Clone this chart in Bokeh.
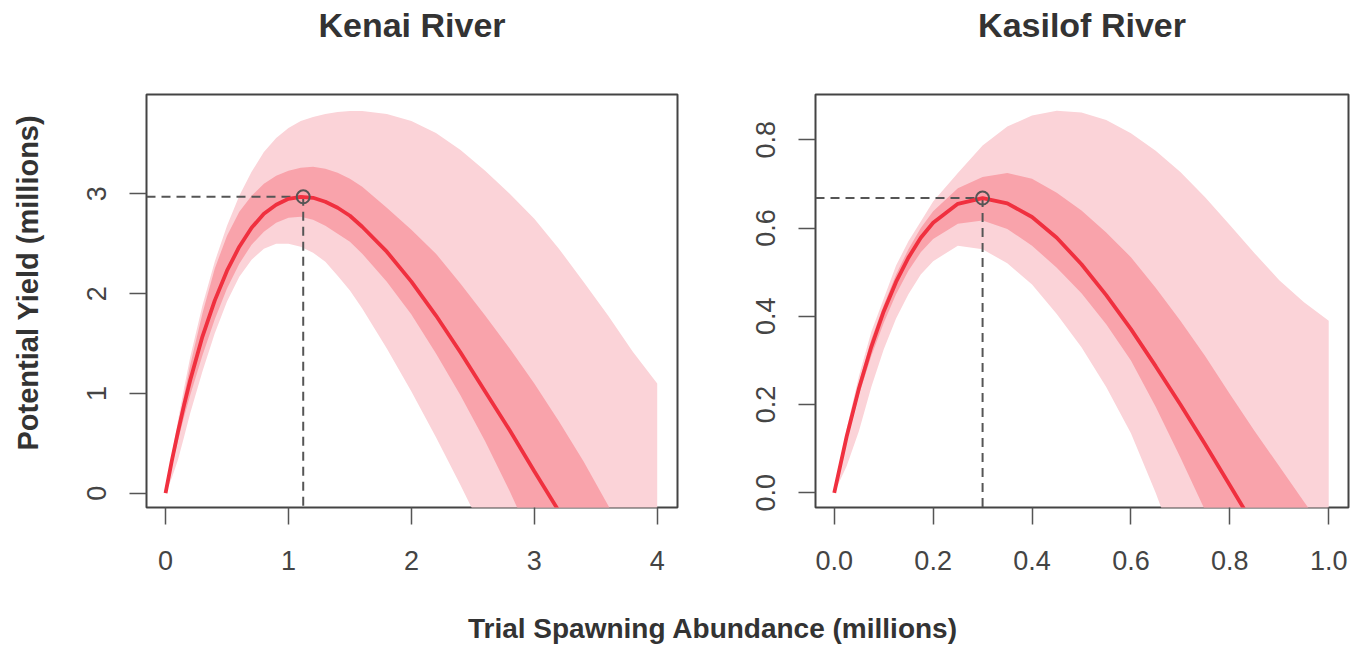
import math
from bokeh.plotting import figure
from bokeh.models import Range1d, FixedTicker, Title, NumeralTickFormatter, BasicTickFormatter
from bokeh.layouts import column, row
from bokeh.embed import file_html
from bokeh.resources import INLINE

# ---------------- data ----------------
# Kenai River
kenai_s = [0, 0.05, 0.1, 0.15, 0.2, 0.3, 0.4, 0.5, 0.6, 0.7, 0.8, 0.9, 1.0, 1.1, 1.2, 1.3,
           1.4, 1.5, 1.6, 1.8, 2.0, 2.2, 2.4, 2.6, 2.8, 3.0, 3.2, 3.4, 3.6, 3.8, 4.0]
kenai_med = [0, 0.32, 0.61, 0.88, 1.13, 1.57, 1.93, 2.23, 2.47, 2.66, 2.80, 2.89, 2.95, 2.97, 2.96, 2.92,
             2.86, 2.78, 2.67, 2.42, 2.12, 1.78, 1.41, 1.02, 0.63, 0.22, -0.18, -0.59, -0.98, -1.38, -1.76]
kenai_in_hi = [0, 0.36, 0.68, 0.98, 1.28, 1.80, 2.25, 2.58, 2.82, 2.98, 3.10, 3.18, 3.23, 3.26, 3.27, 3.25,
               3.21, 3.15, 3.07, 2.86, 2.64, 2.40, 2.10, 1.78, 1.45, 1.10, 0.72, 0.32, -0.12, -0.58, -1.05]
kenai_in_lo = [0, 0.26, 0.52, 0.76, 0.98, 1.38, 1.74, 2.05, 2.30, 2.49, 2.62, 2.71, 2.76, 2.77, 2.74, 2.68,
               2.60, 2.52, 2.40, 2.12, 1.79, 1.40, 0.98, 0.52, 0.02, -0.52, -1.10, -1.70, -2.30, -2.90, -3.50]
kenai_out_hi = [0, 0.38, 0.72, 1.05, 1.36, 1.88, 2.32, 2.68, 2.98, 3.22, 3.42, 3.56, 3.66, 3.73, 3.77, 3.80,
                3.82, 3.83, 3.83, 3.80, 3.73, 3.61, 3.44, 3.23, 3.00, 2.75, 2.45, 2.12, 1.78, 1.42, 1.10]
kenai_out_lo = [0, 0.15, 0.33, 0.56, 0.80, 1.22, 1.60, 1.92, 2.17, 2.34, 2.45, 2.50, 2.50, 2.47, 2.41, 2.32,
                2.18, 2.03, 1.85, 1.45, 1.02, 0.56, 0.08, -0.42, -0.95, -1.50, -2.10, -2.70, -3.30, -3.90, -4.50]
kenai_peak = (1.12, 2.97)
kenai_xticks = [0, 1, 2, 3, 4]
kenai_yticks = [0, 1, 2, 3]

# Kasilof River
kas_s = [0, 0.025, 0.05, 0.075, 0.1, 0.125, 0.15, 0.175, 0.2, 0.25, 0.3, 0.35, 0.4, 0.45, 0.5,
         0.55, 0.6, 0.65, 0.7, 0.75, 0.8, 0.85, 0.9, 0.95, 1.0]
kas_med = [0, 0.127, 0.237, 0.331, 0.411, 0.478, 0.533, 0.578, 0.612, 0.655, 0.668, 0.656, 0.625, 0.578, 0.518,
           0.448, 0.371, 0.287, 0.200, 0.110, 0.017, -0.076, -0.17, -0.26, -0.36]
kas_in_hi = [0, 0.135, 0.25, 0.348, 0.425, 0.495, 0.552, 0.60, 0.638, 0.69, 0.716, 0.725, 0.712, 0.68, 0.64,
             0.59, 0.534, 0.465, 0.39, 0.31, 0.224, 0.14, 0.06, -0.02, -0.10]
kas_in_lo = [0, 0.118, 0.222, 0.31, 0.385, 0.45, 0.503, 0.545, 0.575, 0.61, 0.617, 0.598, 0.56, 0.51, 0.452,
             0.382, 0.30, 0.195, 0.08, -0.04, -0.16, -0.28, -0.40, -0.52, -0.64]
kas_out_hi = [0, 0.145, 0.265, 0.365, 0.44, 0.515, 0.57, 0.615, 0.66, 0.725, 0.787, 0.83, 0.855, 0.866, 0.862,
              0.845, 0.815, 0.775, 0.727, 0.67, 0.607, 0.543, 0.482, 0.432, 0.39]
kas_out_lo = [0, 0.06, 0.14, 0.24, 0.325, 0.395, 0.45, 0.495, 0.525, 0.56, 0.552, 0.52, 0.472, 0.405, 0.33,
              0.24, 0.135, 0.0, -0.15, -0.30, -0.45, -0.60, -0.75, -0.90, -1.05]
kas_peak = (0.30, 0.668)
kas_xticks = [0, 0.2, 0.4, 0.6, 0.8, 1.0]
kas_yticks = [0, 0.2, 0.4, 0.6, 0.8]

titles = ["Kenai River", "Kasilof River"]
ylab = "Potential Yield (millions)"
xlab = "Trial Spawning Abundance (millions)"

# ---------------- styling ----------------
FONT = "Liberation Sans"
LIGHT = "#FBD3D8"
DARK = "#F9A3AB"
RED = "#F0303F"
GREY = "#555555"
TXT = "#333333"

HT = 60          # title strip height
HM = 530         # panel row height
HB = 55          # bottom label strip height
YW = 64          # y-label strip width
W1, W2 = 738, 614


def blank(width, height, **kw):
    f = figure(width=width, height=height, x_range=Range1d(0, 1), y_range=Range1d(0, 1),
               output_backend="svg", toolbar_location=None, min_border=0,
               x_axis_location=None, y_axis_location=None, **kw)
    f.grid.visible = False
    f.outline_line_color = None
    return f


def panel(s, ohi, ihi, med, ilo, olo, peak, xr, yr, xt, yt, fmt, width, mbl, mbr):
    p = figure(width=width, height=HM, x_range=Range1d(*xr), y_range=Range1d(*yr),
               output_backend="svg", toolbar_location=None,
               min_border_left=mbl, min_border_right=mbr,
               min_border_top=94 - HT, min_border_bottom=HM - (94 - HT) - 413)
    p.grid.visible = False
    p.background_fill_color = "white"
    p.border_fill_color = "white"
    p.outline_line_color = "#444444"
    p.outline_line_width = 2
    p.varea(x=s, y1=olo, y2=ohi, fill_color=LIGHT)
    p.varea(x=s, y1=ilo, y2=ihi, fill_color=DARK)
    px, py = peak
    p.line([xr[0], px], [py, py], line_color=GREY, line_width=2, line_dash="9 6")
    p.line([px, px], [py, yr[0]], line_color=GREY, line_width=2, line_dash="9 6")
    p.line(s, med, line_color=RED, line_width=3.8)
    p.scatter([px], [py], marker="circle", size=13, fill_color=None,
              line_color=GREY, line_width=2)
    for ax, ticks in ((p.xaxis, xt), (p.yaxis, yt)):
        ax.ticker = FixedTicker(ticks=ticks)
        ax.formatter = fmt
        ax.axis_line_color = None
        ax.major_tick_in = 0
        ax.major_tick_out = 17
        ax.major_tick_line_color = GREY
        ax.major_tick_line_width = 1.5
        ax.minor_tick_line_color = None
        ax.major_label_text_font = FONT
        ax.major_label_text_font_size = "27px"
        ax.major_label_text_color = "#444444"
    p.xaxis.major_label_standoff = 26
    p.yaxis.major_label_standoff = 23
    p.yaxis.major_label_orientation = "vertical"
    return p


k_xr = (-0.155, 4.165)
k_yr = (-0.143, 3.995)
s_xr = (-0.0379, 1.04)
s_yr = (-0.0333, 0.9027)

f1 = panel(kenai_s, kenai_out_hi, kenai_in_hi, kenai_med, kenai_in_lo, kenai_out_lo, kenai_peak,
           k_xr, k_yr, kenai_xticks, kenai_yticks, BasicTickFormatter(), W1 - YW, 146 - YW, 61)
f2 = panel(kas_s, kas_out_hi, kas_in_hi, kas_med, kas_in_lo, kas_out_lo, kas_peak,
           s_xr, s_yr, kas_xticks, kas_yticks, NumeralTickFormatter(format="0.0"), W2, 77, 4)

# title strips
t1 = blank(W1, HT, min_border_left=146, min_border_right=61)
t1.add_layout(Title(text=titles[0], align="center", vertical_align="top", standoff=11,
                    text_font=FONT, text_font_size="34px", text_font_style="bold",
                    text_color=TXT), "above")
t2 = blank(W2, HT, min_border_left=77, min_border_right=4)
t2.add_layout(Title(text=titles[1], align="center", vertical_align="top", standoff=11,
                    text_font=FONT, text_font_size="34px", text_font_style="bold",
                    text_color=TXT), "above")

# y label strip (its frame is aligned with the panel frames, bottom at page y 507)
y0 = blank(YW, HM)
y0.add_layout(Title(text=ylab, align="left", offset=507 - 450, vertical_align="top",
                    standoff=22, text_font=FONT, text_font_size="29px",
                    text_font_style="bold", text_color=TXT), "left")

# x label strip
f3 = blank(W1 + W2, HB, min_border_left=73)
f3.add_layout(Title(text=xlab, align="center", vertical_align="bottom", standoff=4,
                    text_font=FONT, text_font_size="28px",
                    text_font_style="bold", text_color=TXT), "below")

layout = column(row(t1, t2), row(y0, f1, f2), f3)
open("out.html", "w").write(file_html(layout, INLINE))
